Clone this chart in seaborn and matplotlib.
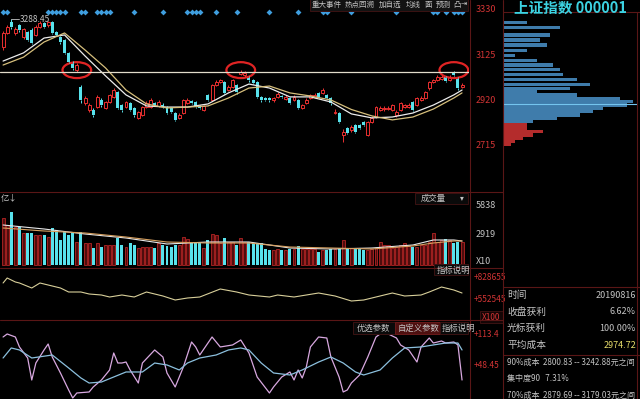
import numpy as np
import pandas as pd
import matplotlib
matplotlib.use("Agg")
import matplotlib.pyplot as plt
from matplotlib.patches import Ellipse, Rectangle
from matplotlib.lines import Line2D
from matplotlib.transforms import blended_transform_factory
import seaborn as sns

# daily candles, 上证指数
opens = [3163, 3226, 3276, 3226, 3262, 3208, 3230, 3240, 3217, 3253, 3270, 3262, 3276, 3230, 3208, 3194,
         3136, 3090, 3059, 2982, 2909, 2878, 2878, 2891, 2923, 2887, 2914, 2937, 2959, 2900, 2891, 2909,
         2887, 2842, 2855, 2891, 2891, 2909, 2896, 2900, 2891, 2887, 2864, 2842, 2864, 2909, 2918, 2914,
         2896, 2878, 2946, 2923, 2991, 3004, 3004, 2968, 2982, 2991, 3041, 3036, 3027, 3013, 3004, 2937,
         2932, 2930, 2921, 2937, 2941, 2928, 2932, 2923, 2923, 2887, 2909, 2932, 2937, 2955, 2955, 2946,
         2932, 2864, 2864, 2765, 2796, 2787, 2810, 2810, 2824, 2765, 2824, 2846, 2878, 2880, 2882, 2878,
         2855, 2878, 2891, 2893, 2914, 2900, 2923, 2932, 2977, 3004, 3013, 3018, 3027, 3013, 3045, 3022, 2982]
closes = [3226, 3253, 3253, 3245, 3240, 3245, 3194, 3181, 3253, 3270, 3255, 3276, 3226, 3217, 3185, 3136,
          3095, 3068, 3081, 2923, 2932, 2900, 2855, 2937, 2900, 2914, 2946, 2968, 2887, 2878, 2914, 2878,
          2855, 2869, 2891, 2909, 2923, 2900, 2914, 2891, 2864, 2869, 2833, 2855, 2923, 2923, 2909, 2891,
          2887, 2896, 2923, 2991, 3004, 3013, 2955, 2982, 3013, 2959, 3050, 3045, 3013, 3000, 2937, 2923,
          2923, 2921, 2932, 2950, 2937, 2937, 2909, 2937, 2887, 2900, 2923, 2946, 2946, 2937, 2968, 2932,
          2909, 2869, 2824, 2778, 2774, 2801, 2778, 2796, 2810, 2824, 2842, 2891, 2887, 2889, 2887, 2900,
          2869, 2909, 2900, 2900, 2878, 2932, 2932, 2959, 3004, 3013, 3027, 3027, 3009, 3027, 3036, 2977, 2991]
highs = [3235, 3262, 3288.45, 3255, 3268, 3250, 3236, 3248, 3262, 3278, 3276, 3282, 3280, 3236, 3212, 3198,
         3140, 3100, 3088, 2990, 2940, 2910, 2885, 2945, 2930, 2920, 2952, 2975, 2962, 2906, 2920, 2915,
         2892, 2875, 2896, 2918, 2930, 2915, 2922, 2908, 2896, 2892, 2868, 2862, 2928, 2930, 2925, 2918,
         2902, 2902, 2952, 2996, 3012, 3020, 3008, 2990, 3020, 2996, 3058, 3052, 3032, 3018, 3008, 2942,
         2938, 2935, 2938, 2958, 2946, 2944, 2936, 2944, 2928, 2906, 2930, 2952, 2955, 2960, 2976, 2950,
         2936, 2880, 2868, 2790, 2802, 2808, 2815, 2816, 2830, 2830, 2850, 2896, 2896, 2895, 2894, 2906,
         2876, 2914, 2906, 2908, 2918, 2938, 2940, 2965, 3010, 3020, 3034, 3034, 3032, 3034, 3052, 3026, 2998]
lows = [3150, 3220, 3245, 3215, 3232, 3200, 3188, 3176, 3210, 3248, 3250, 3255, 3220, 3210, 3178, 3130,
        3088, 3060, 3050, 2910, 2900, 2870, 2845, 2885, 2890, 2880, 2908, 2930, 2880, 2870, 2885, 2872,
        2848, 2836, 2850, 2886, 2886, 2895, 2890, 2885, 2858, 2862, 2826, 2836, 2860, 2904, 2903, 2886,
        2880, 2872, 2918, 2918, 2985, 2998, 2950, 2962, 2976, 2952, 3036, 3028, 3006, 2994, 2930, 2916,
        2918, 2915, 2915, 2932, 2930, 2922, 2904, 2918, 2880, 2880, 2904, 2926, 2932, 2932, 2950, 2926,
        2902, 2858, 2818, 2733, 2768, 2780, 2772, 2790, 2804, 2760, 2818, 2840, 2872, 2875, 2876, 2872,
        2848, 2872, 2885, 2888, 2872, 2895, 2918, 2926, 2970, 2998, 3008, 3012, 3004, 3008, 3030, 2970, 2976]
volumes = [4573, 3892, 5157, 3697, 3697, 3114, 3114, 3114, 2919, 2919, 2919, 2724, 3600, 3406, 2433, 3308,
           2919, 3114, 2238, 3211, 2141, 2141, 1654, 2141, 1751, 1946, 1946, 1946, 2627, 1946, 1751, 2141,
           1946, 1654, 1751, 1751, 1751, 1654, 2141, 1946, 1849, 1751, 1946, 1946, 2724, 2530, 2141, 2238,
           2141, 1654, 2433, 3016, 2919, 2141, 2627, 2238, 2238, 1946, 2627, 2238, 2238, 2141, 2141, 2141,
           1557, 1460, 1460, 1557, 1460, 1460, 1557, 1557, 1849, 1557, 1557, 1557, 1557, 1265, 1460, 1460,
           1557, 1557, 1654, 2433, 1654, 1654, 1557, 1557, 1460, 1460, 1557, 1654, 2238, 1946, 1946, 1654,
           1751, 1946, 2141, 1849, 1751, 1751, 1946, 1946, 2238, 3114, 2238, 2433, 2530, 2433, 2141, 2238, 2238]

# moving averages on price
ma_days = [0, 5, 10, 15, 20, 25, 30, 35, 40, 45, 50, 55, 60, 65, 70, 75, 80, 85, 90, 95, 100, 105, 110, 112]
ma_fast = [3099, 3136, 3203, 3217, 3122, 3032, 2946, 2896, 2891, 2891, 2905, 2955, 2995, 2977, 2937, 2937,
           2914, 2860, 2842, 2846, 2864, 2900, 2946, 2968]
ma_slow = [3081, 3117, 3185, 3226, 3149, 3068, 2968, 2905, 2887, 2891, 2896, 2932, 2977, 2986, 2955, 2941,
           2923, 2880, 2851, 2833, 2846, 2882, 2932, 2955]

# volume moving averages
vma_days = [0, 10, 20, 30, 40, 50, 60, 70, 80, 90, 100, 105, 110, 112]
vma_fast = [3892, 3503, 3016, 2627, 2043, 2238, 2238, 1654, 1557, 1654, 1946, 2433, 2433, 2335]
vma_slow = [3600, 3308, 3114, 2724, 2238, 2141, 2141, 1751, 1654, 1557, 1849, 2141, 2335, 2335]

# middle indicator (x100)
obv_days = [0, 1, 3, 4, 7, 9, 11, 14, 16, 19, 21, 24, 26, 29, 32, 35, 39, 42, 45, 48, 53, 57, 60, 65, 67, 71,
            77, 81, 85, 88, 92, 95, 98, 102, 104, 107, 110, 112]
obv_vals = [762900, 828700, 776100, 762900, 697200, 762900, 736600, 697200, 644600, 644600, 618300, 605100,
            578800, 605100, 578800, 644600, 592000, 539400, 565700, 578800, 684000, 644600, 605100, 578800,
            605100, 578800, 631400, 592000, 526300, 539400, 592000, 631400, 592000, 605100, 644600, 710300,
            670900, 631400]

# bottom indicator, two lines
k_days = [0, 1, 3, 4, 6, 7, 8, 10, 11, 12, 14, 16, 17, 18, 21, 22, 24, 26, 27, 28, 29, 30, 31, 33, 34, 37,
          39, 40, 42, 44, 46, 47, 48, 51, 53, 56, 58, 60, 62, 65, 66, 68, 70, 71, 72, 73, 74, 75, 77, 79, 80,
          82, 83, 84, 85, 87, 89, 91, 92, 94, 96, 97, 99, 101, 102, 104, 105, 107, 108, 110, 111, 112]
k_vals = [109.2, 115.5, 109.2, 88.3, 65.2, 19.1, 54.7, 82.0, 94.5, 67.3, 33.8, -1.8, -18.6, -8.1, -6.0, 4.5,
          19.1, 40.1, 75.7, 54.7, 54.7, 56.8, 40.1, 12.8, 54.7, 82.0, 67.3, 33.8, 4.5, 46.4, 98.7, 88.3, 71.5,
          109.2, 88.3, 92.5, 102.9, 75.7, 25.4, -8.1, 4.5, 25.4, 35.9, 19.1, 40.1, 23.3, 46.4, 88.3, 109.2,
          107.1, 67.3, 25.4, -6.0, -1.8, 12.8, 29.6, 67.3, 109.2, 115.5, 115.5, 107.1, 92.5, 82.0, 56.8, 88.3,
          107.1, 96.6, 100.8, 96.6, 98.7, 92.5, 19.1]
d_days = [0, 2, 4, 7, 12, 16, 19, 21, 24, 27, 30, 34, 37, 40, 43, 45, 48, 52, 55, 58, 60, 63, 66, 70, 73, 77,
          80, 83, 86, 88, 92, 95, 98, 102, 105, 108, 111, 112]
d_vals = [65.2, 86.2, 82.0, 65.2, 71.5, 44.3, 23.3, 12.8, 14.9, 25.4, 35.9, 35.9, 54.7, 50.6, 40.1, 54.7,
          65.2, 71.5, 82.0, 86.2, 82.0, 54.7, 33.8, 29.6, 40.1, 56.8, 67.3, 54.7, 35.9, 29.6, 40.1, 65.2,
          86.2, 88.3, 92.5, 96.6, 96.6, 82.0]

event_days = [0, 1, 11, 12, 13, 14, 15, 19, 20, 23, 24, 25, 26, 32, 39, 45, 46, 47, 48, 52, 57, 65, 72, 78,
              79, 85, 96, 105, 106, 108, 110, 111, 112]
circle_days = [18, 58, 110]
resistance = 3050

price_ticks = [3330, 3125, 2920, 2715]
vol_ticks = [5838, 2919]
obv_ticks = [828655, 552545]
kd_ticks = [113.4, 48.45]

# chip distribution
chip_prices = [3273, 3251, 3217, 3194, 3172, 3147, 3124, 3102, 3081, 3061, 3038, 3016, 2993, 2975, 2961,
               2946, 2930, 2916, 2900, 2885, 2871, 2855, 2839, 2826, 2812, 2796, 2781, 2765, 2749, 2738, 2722]
chip_sizes = [24, 57, 47, 37, 44, 24, 12, 34, 50, 57, 60, 74, 87, 67, 34, 74, 117, 130, 124, 100, 90, 77,
              54, 30, 24, 24, 40, 30, 20, 12, 8]
chip_split = 2820
chip_line = 2905

info_rows = [("时间", "20190816"), ("收盘获利", "6.62%"), ("光标获利", "100.00%"), ("平均成本", "2974.72")]
cost_rows = ["90%成本  2800.83 -- 3242.88元之间", "集中度90   7.31%", "70%成本  2879.69 -- 3179.03元之间"]
toolbar = ["重大事件", "热点回溯", "加自选", "均线", "面", "预测", "凸", "⇥"]

sns.set_theme(style="dark")
plt.rcParams['font.family'] = ['Noto Sans CJK SC', 'DejaVu Sans']
plt.rcParams['axes.unicode_minus'] = False

RED = '#ea3030'
CYAN = '#58e2ec'
BORDER = '#5a1616'
GREY = '#c4c4c4'
W, H = 640, 399

fig = plt.figure(figsize=(6.4, 3.99), dpi=100, facecolor='black')


def px_axes(x0, y0, w, h):
    a = fig.add_axes([x0 / W, 1 - (y0 + h) / H, w / W, h / H])
    a.set_facecolor('black')
    for s in a.spines.values():
        s.set_visible(False)
    return a


def fline(x0, y0, x1, y1, color=BORDER, lw=0.8):
    fig.add_artist(Line2D([x0 / W, x1 / W], [1 - y0 / H, 1 - y1 / H], transform=fig.transFigure,
                          color=color, lw=lw))


def ftext(x, y, s, **kw):
    kw.setdefault('color', GREY)
    kw.setdefault('fontsize', 6.5)
    kw.setdefault('va', 'center')
    fig.text(x / W, 1 - y / H, s, **kw)


def fbox(x, y, w, h, face, edge):
    fig.add_artist(Rectangle((x / W, 1 - (y + h) / H), w / W, h / H, transform=fig.transFigure,
                             facecolor=face, edgecolor=edge, lw=0.7))


days = np.arange(len(closes))
o = np.array(opens, float)
c = np.array(closes, float)
up = c >= o
lo_b = np.minimum(o, c)
hi_b = np.maximum(o, c)
body = np.maximum(hi_b - lo_b, 2.0)
cols = np.where(up, RED, CYAN)
XL = (-0.75, 113.7)
BW = 0.72

# ---- main price panel ----
ax = px_axes(0, 0, 469, 192)
ax.vlines(days, highs, hi_b, colors=cols, lw=0.7)
ax.vlines(days, lows, lo_b, colors=cols, lw=0.7)
ax.bar(days[up], body[up], bottom=lo_b[up], width=BW, facecolor='black', edgecolor=RED, linewidth=0.7)
ax.bar(days[~up], body[~up], bottom=lo_b[~up], width=BW, color=CYAN, linewidth=0)
ma = pd.DataFrame({'day': ma_days, 'fast': ma_fast, 'slow': ma_slow})
sns.lineplot(data=ma, x='day', y='fast', ax=ax, color='#ececec', lw=0.9)
sns.lineplot(data=ma, x='day', y='slow', ax=ax, color='#d6bf7c', lw=0.9)
ax.axhline(resistance, color='#e2dccb', lw=0.9)
for d in circle_days:
    ax.add_patch(Ellipse((d, resistance + 8), 7.0, 72, fill=False, edgecolor='#e02424', lw=1.6))
tr = blended_transform_factory(ax.transData, ax.transAxes)
ax.scatter(event_days, [0.937] * len(event_days), transform=tr, marker='D', s=9, color='#3f9ede',
           linewidths=0)
pk = int(np.argmax(highs))
ax.plot([pk, pk + 2], [highs[pk], highs[pk]], color=GREY, lw=0.6)
ax.text(pk + 2.1, highs[pk], f"{highs[pk]:.2f}", color=GREY, fontsize=6, va='center')
ax.set_xlim(XL)
ax.set_ylim(2507, 3375)
ptr = blended_transform_factory(fig.transFigure, ax.transData)
for p in price_ticks:
    ax.text(476 / W, p, str(p), transform=ptr, color='#d23434', fontsize=6.5, va='center')

# ---- volume panel ----
axv = px_axes(0, 192, 469, 76)
vol = np.array(volumes, float)
axv.bar(days[up], vol[up], width=BW, facecolor='#4e0d0d', edgecolor='#b42424', linewidth=0.6)
axv.bar(days[~up], vol[~up], width=BW, color=CYAN, linewidth=0)
vma = pd.DataFrame({'day': vma_days, 'fast': vma_fast, 'slow': vma_slow})
sns.lineplot(data=vma, x='day', y='fast', ax=axv, color='#e8e8e8', lw=0.8)
sns.lineplot(data=vma, x='day', y='slow', ax=axv, color='#d6a060', lw=0.8)
axv.set_xlim(XL)
axv.set_ylim(-292, 7103)
vtr = blended_transform_factory(fig.transFigure, axv.transData)
for v in vol_ticks:
    axv.text(476 / W, v, str(v), transform=vtr, color=GREY, fontsize=6.5, va='center')

# ---- middle indicator ----
axo = px_axes(0, 268, 469, 52)
sns.lineplot(x=obv_days, y=obv_vals, ax=axo, color='#d8cf9a', lw=0.8)
axo.set_xlim(XL)
axo.set_ylim(276439, 960135)
otr = blended_transform_factory(fig.transFigure, axo.transData)
for v in obv_ticks:
    axo.text(474 / W, v, f"+{v}", transform=otr, color='#d23434', fontsize=6, va='center')

# ---- bottom indicator ----
axk = px_axes(0, 320, 469, 79)
sns.lineplot(x=k_days, y=k_vals, ax=axk, color='#d8a8e0', lw=0.9)
sns.lineplot(x=d_days, y=d_vals, ax=axk, color='#8cc0de', lw=0.9)
axk.set_xlim(XL)
axk.set_ylim(-20.7, 144.8)
ktr = blended_transform_factory(fig.transFigure, axk.transData)
for v in kd_ticks:
    axk.text(474 / W, v, f"+{v}", transform=ktr, color='#d23434', fontsize=6, va='center')

# ---- chip distribution ----
axc = px_axes(503, 0, 134, 192)
cc = ['#3f7cab' if p > chip_split else '#b42c2c' for p in chip_prices]
axc.barh(chip_prices, chip_sizes, height=15, color=cc, linewidth=0)
axc.axhline(chip_line, color='#74c4ee', lw=0.8)
axc.set_xlim(0, 134)
axc.set_ylim(2507, 3375)

for a in (ax, axv, axo, axk, axc):
    a.set_xticks([])
    a.set_yticks([])
    a.set(xlabel=None, ylabel=None)
    a.grid(False)

# ---- frame lines ----
fline(0, 192, 503, 192)
fline(0, 268, 503, 268)
fline(0, 320, 503, 320)
fline(470, 0, 470, 399)
fline(503, 0, 503, 399)
fline(503, 12, 640, 12)
fline(503, 287, 640, 287)
fline(503, 355, 640, 355)
fline(637, 12, 637, 399)

# toolbar
fbox(310, -1, 158, 12, '#121212', '#3a1212')
tx = [312, 345, 379, 406, 425, 436, 453, 461]
for x, s in zip(tx, toolbar):
    ftext(x, 5, s, fontsize=5.4)

ftext(570, 8, "上证指数 000001", color='#3cd2e2', fontsize=10.5, ha='center', fontweight='bold')

ftext(1, 198, "亿↓", fontsize=6)
fbox(415, 193, 53, 11, '#0a0a0a', '#3a1212')
ftext(421, 198, "成交量", fontsize=6)
ftext(460, 198, "▾", fontsize=5.5)
ftext(476, 261, "X10", fontsize=6.5)
fbox(434, 264, 34, 11, '#0a0a0a', '#3a1212')
ftext(437, 270, "指标说明", fontsize=6)
fbox(480, 311, 23, 12, '#140606', '#3a1212')
ftext(482, 317, "X100", color='#d23434', fontsize=6)

fbox(353, 322, 42, 12, '#0a0a0a', '#3a1212')
ftext(357, 328, "优选参数", fontsize=6)
fbox(395, 322, 45, 12, '#4e1010', '#6a1a1a')
ftext(398, 328, "自定义参数", fontsize=6)
fbox(440, 322, 28, 12, '#0a0a0a', '#3a1212')
ftext(442, 328, "指标说明", fontsize=6)

# info panel
for i, (k, v) in enumerate(info_rows):
    y = 295 + i * 16.7
    ftext(507, y, k, fontsize=7)
    ftext(636, y, v, fontsize=6.5, ha='right', color='#e6dc6a' if k == "平均成本" else GREY)
for i, s in enumerate(cost_rows):
    ftext(507, 362 + i * 16.5, s, fontsize=5.8)

fig.savefig("out.png", dpi=100, facecolor='black')
